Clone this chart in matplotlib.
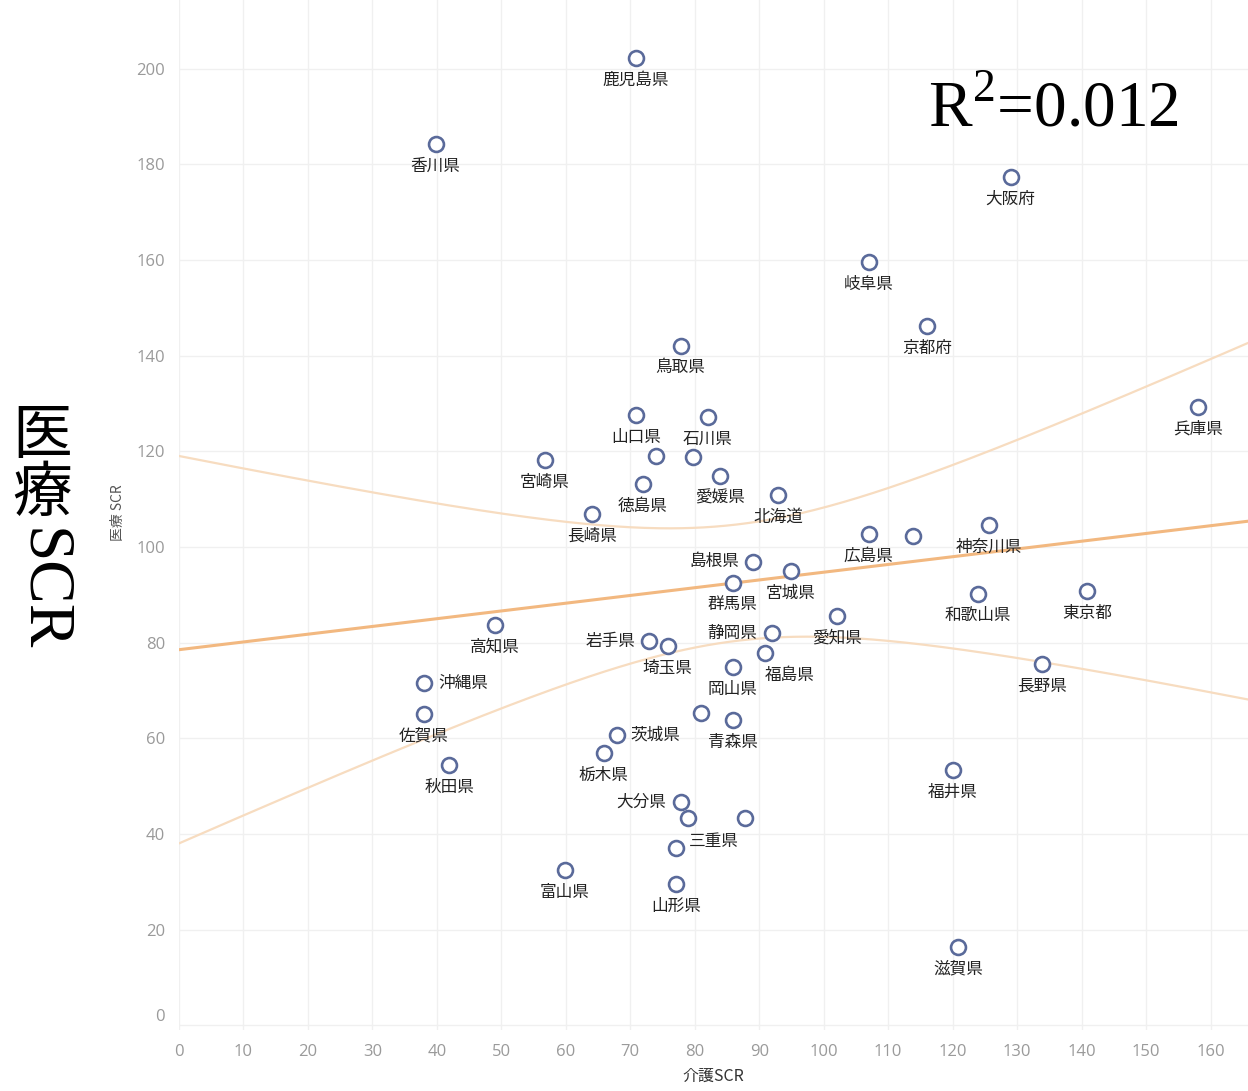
""" 介護SCR と 医療SCR の散布図（都道府県別） """
import numpy as np
import matplotlib
matplotlib.use("Agg")
import matplotlib.pyplot as plt

plt.rcParams['font.family'] = ['Noto Sans CJK JP', 'DejaVu Sans']
plt.rcParams['mathtext.fontset'] = 'custom'
plt.rcParams['mathtext.rm'] = 'Liberation Serif'

# data ('' = point without a label)
prefs = ['鹿児島県', '香川県', '大阪府', '岐阜県', '京都府', '鳥取県', '兵庫県',
         '山口県', '石川県', '', '', '宮崎県', '愛媛県', '徳島県', '北海道',
         '長崎県', '神奈川県', '広島県', '', '島根県', '宮城県', '群馬県',
         '東京都', '和歌山県', '愛知県', '高知県', '静岡県', '岩手県', '埼玉県',
         '福島県', '長野県', '岡山県', '沖縄県', '', '佐賀県', '青森県',
         '茨城県', '栃木県', '秋田県', '福井県', '大分県', '', '', '三重県',
         '富山県', '山形県', '滋賀県']
kaigo = [70.9, 39.8, 129.0, 107.0, 116.0, 77.8, 158.0,
         70.9, 82.0, 74.0, 79.7, 56.7, 83.9, 71.9, 92.9,
         64.0, 125.7, 107.0, 113.8, 89.0, 94.9, 85.9,
         140.8, 123.9, 102.0, 49.0, 91.9, 72.9, 75.8,
         90.9, 133.8, 85.9, 38.0, 80.9, 38.0, 85.9,
         67.9, 65.9, 41.9, 120.0, 77.8, 78.9, 87.8, 77.1,
         59.8, 77.1, 120.9]
iryo = [202.3, 184.3, 177.4, 159.6, 146.2, 142.1, 129.3,
        127.6, 127.2, 119.0, 118.8, 118.2, 114.9, 113.2, 110.9,
        106.9, 104.6, 102.7, 102.3, 96.9, 95.0, 92.5,
        90.8, 90.2, 85.6, 83.7, 82.0, 80.3, 79.3,
        77.8, 75.5, 74.9, 71.5, 65.3, 65.1, 63.8,
        60.7, 56.9, 54.4, 53.3, 46.7, 43.3, 43.3, 37.0,
        32.4, 29.5, 16.3]
r2_label = '0.012'
xticks = list(range(0, 161, 10))
yticks = list(range(0, 201, 20))

# label placement (offset in px from the marker, alignment)
left_lab = ['島根県', '静岡県', '岩手県', '大分県']
right_lab = ['沖縄県', '茨城県']
special = {'福島県': (25, -22, 'center'), '三重県': (13, 7, 'left')}

fig = plt.figure(figsize=(12.48, 10.91), dpi=100)
ax = fig.add_axes([0.1434, 0.0559, 0.8566, 0.9441])

x = np.asarray(kaigo)
y = np.asarray(iryo)

# linear trend + 95% confidence band
b, a = np.polyfit(x, y, 1)
n = len(x)
resid = y - (a + b * x)
s = np.sqrt(np.sum(resid ** 2) / (n - 2))
sxx = np.sum((x - x.mean()) ** 2)
xs = np.linspace(-1, 170, 300)
fit = a + b * xs
half = 2.014 * s * np.sqrt(1 / n + (xs - x.mean()) ** 2 / sxx)
ax.plot(xs, fit, color='#f2b880', lw=2.2, zorder=2)
ax.plot(xs, fit + half, color='#f7dcc0', lw=1.6, zorder=2)
ax.plot(xs, fit - half, color='#f7dcc0', lw=1.6, zorder=2)

ax.scatter(x, y, s=115, facecolors='white', edgecolors='#5a6a9a',
           linewidths=1.9, zorder=3)

px = 72 / 100  # pixels -> points
for xi, yi, name in zip(x, y, prefs):
    if not name:
        continue
    if name in left_lab:
        dx, dy, ha = -14, 0, 'right'
    elif name in right_lab:
        dx, dy, ha = 14, 0, 'left'
    elif name in special:
        dx, dy, ha = special[name]
    else:
        dx, dy, ha = 0, -22, 'center'
    ax.annotate(name, (xi, yi), xytext=(dx * px, dy * px),
                textcoords='offset points', ha=ha, va='center',
                fontsize=12, color='#222222', zorder=4)

ax.set_xlim(0, 165.8)
ax.set_ylim(-1, 214.4)
ax.set_xticks(xticks)
ax.set_yticks(yticks)
ax.tick_params(length=0, labelsize=12, labelcolor='#9a9a9a', pad=10)
for lab in ax.get_xticklabels() + ax.get_yticklabels():
    lab.set_family(['Open Sans', 'DejaVu Sans'])
ax.get_yticklabels()[0].set_va('bottom')
ax.grid(True, color='#f0f0f0', lw=1)
ax.set_axisbelow(True)
for sp in ax.spines.values():
    sp.set_visible(False)

ax.set_xlabel('介護SCR', fontsize=11.5, color='#333333', labelpad=6)
fig.text(118 / 1248, 1 - 513 / 1091, '医療 SCR', rotation=90, ha='center',
         va='center', fontsize=10, color='#555555')

# large vertical label
fig.text(42 / 1248, 1 - 437 / 1091, '医', fontsize=43, ha='center',
         va='center', color='black')
fig.text(42 / 1248, 1 - 495 / 1091, '療', fontsize=43, ha='center',
         va='center', color='black')
fig.text(42 / 1248, 1 - 590 / 1091, 'SCR', fontsize=47, rotation=-90,
         ha='center', va='center', color='black',
         family=['Liberation Serif', 'DejaVu Serif'])

fig.text(1053 / 1248, 1 - 110 / 1091, r'R$^{\mathrm{2}}$=' + r2_label,
         fontsize=47, ha='center', va='center', color='black',
         family=['Liberation Serif', 'DejaVu Serif'])

fig.savefig('out.png', dpi=100, facecolor='white')
